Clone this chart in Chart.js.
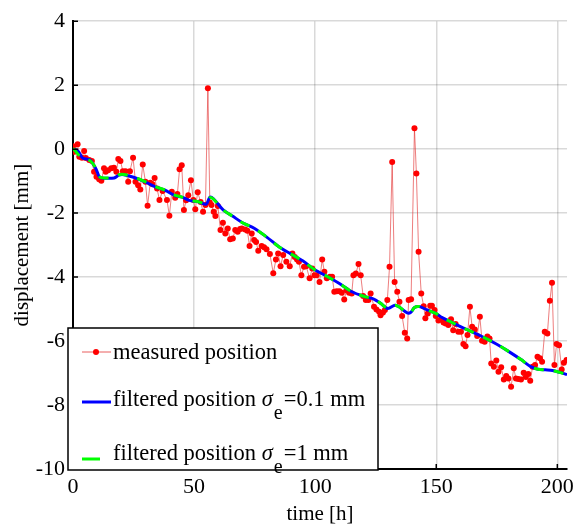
<!DOCTYPE html>
<html>
<head>
<meta charset="utf-8">
<script src="https://cdn.jsdelivr.net/npm/chart.js@4/dist/chart.umd.min.js"></script>
<style>
  html, body { margin: 0; padding: 0; background: #fff; }
  #wrap { width: 579px; height: 528px; }
</style>
</head>
<body>
<div id="wrap"><canvas id="dispChart" width="579" height="528"></canvas></div>
<script>
// measured position (hours, mm)
var measTime = [
  0, 0.6, 1.9, 2.6, 3.7, 4.6, 5.3, 6.7, 7.8, 8.7, 9.7, 10.8, 11.7, 12.8, 13.5, 14.5, 15.8, 16.9, 17.9, 18.7,
  19.6, 20.6, 21.7, 22.8, 23.5, 24.8, 25.8, 26.9, 27.8, 28.8, 29.9, 30.8, 31.9, 32.8, 33.7, 34.7, 35.7, 37.0, 38.8, 39.8,
  40.8, 42.2, 43.1, 44.0, 44.9, 45.8, 46.7, 47.6, 48.7, 49.7, 50.5, 51.5, 52.7, 53.7, 54.7, 55.7, 56.5, 57.2, 58.1, 58.8,
  59.8, 60.9, 61.9, 62.9, 63.9, 64.9, 66.0, 67.0, 68.0, 69.0, 69.7, 71.1, 72.0, 72.9, 73.8, 74.8, 75.6, 76.5, 77.9, 78.9,
  79.9, 81.3, 82.7, 83.8, 84.7, 85.7, 86.8, 88.1, 89.5, 90.6, 91.6, 92.5, 93.3, 94.3, 95.4, 96.3, 97.7, 98.8, 99.7, 100.6,
  101.8, 102.9, 103.8, 104.8, 106.1, 107.0, 107.9, 108.9, 110.0, 111.0, 112.0, 112.9, 114.0, 115.1, 115.8, 116.8, 117.9, 118.8, 119.8, 120.9,
  122.0, 122.9, 124.3, 125.3, 126.4, 127.0, 128.0, 128.8, 129.8, 130.7, 131.8, 132.8, 133.9, 134.8, 135.9, 137.0, 138.0, 138.6, 139.6, 141.0,
  141.8, 142.7, 143.8, 144.8, 145.5, 146.5, 147.5, 148.2, 149.3, 149.8, 150.9, 152.0, 153.0, 153.9, 155.0, 156.1, 157.0, 158.0, 159.1, 160.2,
  161.2, 162.1, 162.9, 163.9, 164.8, 165.9, 166.9, 168.0, 168.9, 170.0, 171.1, 172.0, 172.7, 173.8, 174.8, 175.7, 176.8, 177.9, 178.9, 179.8,
  180.9, 182.0, 182.9, 183.9, 185.0, 186.1, 187.0, 188.0, 188.8, 189.8, 190.8, 191.8, 192.8, 193.7, 194.8, 195.9, 196.9, 197.8, 198.8, 199.7,
  200.7, 201.8, 202.7, 203.8
];
var measured = [
  0.09, -0.08, 0.15, -0.24, -0.27, -0.06, -0.28, -0.34, -0.37, -0.71, -0.86, -0.94, -0.99, -0.60, -0.71, -0.66, -0.60, -0.58, -0.71, -0.31,
  -0.37, -0.69, -0.69, -1.02, -0.69, -0.27, -1.02, -1.13, -1.26, -0.48, -1.02, -1.77, -1.05, -1.10, -0.90, -1.23, -1.59, -1.31, -1.59, -2.08,
  -1.33, -1.52, -1.40, -0.63, -0.50, -1.90, -1.60, -1.44, -0.97, -1.59, -1.88, -1.35, -1.65, -1.96, -1.75, 1.90, -1.67, -1.75, -1.96, -2.09,
  -1.78, -2.53, -2.30, -2.64, -2.48, -2.82, -2.79, -2.53, -2.58, -2.50, -2.48, -2.51, -2.55, -3.03, -2.64, -2.84, -2.90, -3.18, -3.03, -3.07,
  -3.13, -3.28, -3.88, -3.45, -3.26, -3.66, -3.31, -3.52, -3.66, -3.26, -3.37, -3.45, -3.52, -3.94, -3.68, -3.66, -4.04, -3.73, -3.94, -3.94,
  -4.15, -3.45, -3.83, -4.04, -3.99, -3.99, -4.46, -4.44, -4.44, -4.49, -4.70, -4.41, -4.49, -4.51, -3.94, -3.89, -3.59, -3.94, -4.59, -4.72,
  -4.72, -4.51, -4.93, -5.01, -5.08, -5.19, -5.11, -5.03, -4.72, -3.68, -0.40, -4.15, -4.46, -4.77, -5.22, -5.74, -5.92, -4.72, -4.69, 0.65,
  -0.76, -3.21, -4.51, -4.91, -5.29, -5.14, -4.90, -4.90, -5.03, -5.22, -5.36, -5.32, -5.42, -5.45, -5.50, -5.32, -5.66, -5.47, -5.71, -5.71,
  -6.09, -6.16, -5.81, -4.93, -5.55, -5.64, -5.84, -5.24, -5.99, -6.02, -5.86, -5.92, -6.70, -6.80, -6.61, -6.96, -6.82, -7.20, -7.09, -7.17,
  -7.43, -6.85, -7.17, -7.19, -7.20, -6.99, -7.12, -7.03, -7.24, -6.80, -6.75, -6.49, -6.54, -6.65, -5.71, -5.76, -4.74, -4.18, -6.75, -6.09,
  -6.13, -6.89, -6.68, -6.59
];

// filtered positions
var filtTime = [0, 2, 4, 7, 9.5, 11, 13, 17, 19, 21, 25, 30, 34, 38, 42, 45, 48, 52, 55, 56.5,
  58, 62, 66, 70, 75, 80, 85, 90, 95, 100, 105, 110, 115, 120, 124, 127, 130, 133, 135, 138,
  139.5, 141, 143, 146, 150, 152, 156, 160, 165, 170, 175, 180, 185, 189, 192, 195, 198, 201, 204];
var filteredFine = [0, -0.05, -0.28, -0.34, -0.62, -0.88, -0.91, -0.90, -0.81, -0.80, -0.88, -1.03, -1.18, -1.28, -1.45, -1.50, -1.60, -1.65, -1.72, -1.50,
  -1.55, -1.90, -2.10, -2.30, -2.48, -2.75, -3.05, -3.28, -3.50, -3.78, -3.98, -4.20, -4.45, -4.60, -4.68, -4.82, -4.98, -4.88, -4.95, -5.12,
  -5.10, -4.95, -4.92, -5.02, -5.14, -5.25, -5.40, -5.55, -5.72, -5.90, -6.10, -6.33, -6.58, -6.80, -6.88, -6.90, -6.92, -6.98, -7.05];
var filteredCoarse = [0.03, -0.15, -0.30, -0.36, -0.60, -0.86, -0.90, -0.89, -0.80, -0.79, -0.87, -1.02, -1.17, -1.28, -1.44, -1.50, -1.59, -1.65, -1.70, -1.52,
  -1.56, -1.90, -2.10, -2.30, -2.48, -2.75, -3.05, -3.28, -3.50, -3.78, -3.98, -4.20, -4.45, -4.60, -4.68, -4.82, -4.98, -4.88, -4.95, -5.12,
  -5.10, -4.95, -4.92, -5.02, -5.14, -5.25, -5.40, -5.55, -5.72, -5.90, -6.10, -6.33, -6.58, -6.80, -6.88, -6.90, -6.92, -6.98, -7.05];

var xTicks = [0, 50, 100, 150, 200];
var yTicks = [4, 2, 0, -2, -4, -6, -8, -10];

var serif = '"Liberation Serif", "Times New Roman", serif';

function toPoints(xs, ys) {
  return xs.map(function (x, i) { return { x: x, y: ys[i] }; });
}

// small inward ticks on the left and bottom axes, like the original
var innerTicks = {
  id: 'innerTicks',
  afterDatasetsDraw: function (chart) {
    var ctx = chart.ctx, a = chart.chartArea;
    var xs = chart.scales.x, ys = chart.scales.y;
    ctx.save();
    ctx.strokeStyle = '#000';
    ctx.lineWidth = 1.5;
    ctx.beginPath();
    yTicks.forEach(function (v) {
      var py = ys.getPixelForValue(v);
      ctx.moveTo(a.left, py); ctx.lineTo(a.left + 5, py);
    });
    xTicks.forEach(function (v) {
      var px = xs.getPixelForValue(v);
      ctx.moveTo(px, a.bottom); ctx.lineTo(px, a.bottom - 5);
    });
    ctx.stroke();
    ctx.restore();
  }
};

// legend box drawn inside the plot, lower left
var boxLegend = {
  id: 'boxLegend',
  afterDraw: function (chart) {
    var ctx = chart.ctx;
    var L = 68, T = 328, R = 378, B = 470;
    ctx.save();
    ctx.fillStyle = '#fff';
    ctx.fillRect(L, T, R - L, B - T);
    ctx.strokeStyle = '#000';
    ctx.lineWidth = 1.5;
    ctx.strokeRect(L, T, R - L, B - T);

    // measured
    ctx.strokeStyle = 'rgba(225,40,40,0.75)';
    ctx.lineWidth = 1;
    ctx.beginPath(); ctx.moveTo(82, 352); ctx.lineTo(111, 352); ctx.stroke();
    ctx.fillStyle = '#f00';
    ctx.beginPath(); ctx.arc(96, 352, 3, 0, Math.PI * 2); ctx.fill();
    // blue
    ctx.strokeStyle = '#0000ff';
    ctx.lineWidth = 3;
    ctx.beginPath(); ctx.moveTo(82, 402); ctx.lineTo(111, 402); ctx.stroke();
    // green
    ctx.strokeStyle = '#00ff00';
    ctx.beginPath(); ctx.moveTo(82, 459); ctx.lineTo(100, 459); ctx.stroke();

    ctx.fillStyle = '#000';
    ctx.textBaseline = 'alphabetic';
    ctx.font = '22.5px ' + serif;
    ctx.fillText('measured position', 113, 359);

    function sigmaRow(y, rest) {
      ctx.font = '22.5px ' + serif;
      var x = 113;
      ctx.fillText('filtered position ', x, y);
      x += ctx.measureText('filtered position ').width;
      ctx.font = 'italic 22.5px ' + serif;
      ctx.fillText('\u03c3', x, y);
      x += ctx.measureText('\u03c3').width + 1;
      ctx.font = '20px ' + serif;
      ctx.fillText('e', x, y + 13);
      x += ctx.measureText('e').width + 1;
      ctx.font = '22.5px ' + serif;
      ctx.fillText(rest, x, y);
    }
    sigmaRow(406, '=0.1 mm');
    sigmaRow(460, '=1 mm');
    ctx.restore();
  }
};

var ctx = document.getElementById('dispChart').getContext('2d');
var dispChart = new Chart(ctx, {
  type: 'line',
  data: {
    datasets: [
      {
        label: 'filtered position \u03c3e=1 mm',
        data: toPoints(filtTime, filteredCoarse),
        borderColor: '#00ff00',
        borderWidth: 3,
        borderDash: [10, 10],
        pointRadius: 0,
        tension: 0.3,
        order: 1
      },
      {
        label: 'filtered position \u03c3e=0.1 mm',
        data: toPoints(filtTime, filteredFine),
        borderColor: '#0000ff',
        borderWidth: 3,
        pointRadius: 0,
        tension: 0.3,
        order: 2
      },
      {
        label: 'measured position',
        data: toPoints(measTime, measured),
        borderColor: 'rgba(225,40,40,0.6)',
        borderWidth: 1,
        pointRadius: 3,
        pointBackgroundColor: '#f00',
        pointBorderWidth: 0,
        tension: 0,
        order: 3
      }
    ]
  },
  options: {
    responsive: false,
    animation: false,
    layout: { padding: { top: 20, right: 8, left: 0, bottom: 0 } },
    plugins: {
      legend: { display: false },
      tooltip: { enabled: false }
    },
    scales: {
      x: {
        type: 'linear',
        min: 0,
        max: 204,
        afterBuildTicks: function (s) { s.ticks = xTicks.map(function (v) { return { value: v }; }); },
        afterFit: function (s) { s.height = 59; },
        grid: { color: 'rgba(0,0,0,0.15)', lineWidth: 1.5, drawTicks: false },
        border: { color: '#000', width: 2 },
        ticks: { color: '#000', font: { family: serif, size: 22 }, padding: 5, maxRotation: 0 },
        title: { display: true, text: 'time [h]', color: '#000', font: { family: serif, size: 21 }, padding: { top: 0, bottom: 1 } }
      },
      y: {
        min: -10,
        max: 4,
        afterBuildTicks: function (s) { s.ticks = yTicks.map(function (v) { return { value: v }; }); },
        afterFit: function (s) { s.width = 73; },
        grid: { color: 'rgba(0,0,0,0.15)', lineWidth: 1.5, drawTicks: false },
        border: { color: '#000', width: 2 },
        ticks: { color: '#000', font: { family: serif, size: 22 }, padding: 8 },
        title: { display: true, text: 'displacement [mm]', color: '#000', font: { family: serif, size: 21 }, padding: { top: 10, bottom: 0 } }
      }
    }
  },
  plugins: [innerTicks, boxLegend]
});
</script>
</body>
</html>
